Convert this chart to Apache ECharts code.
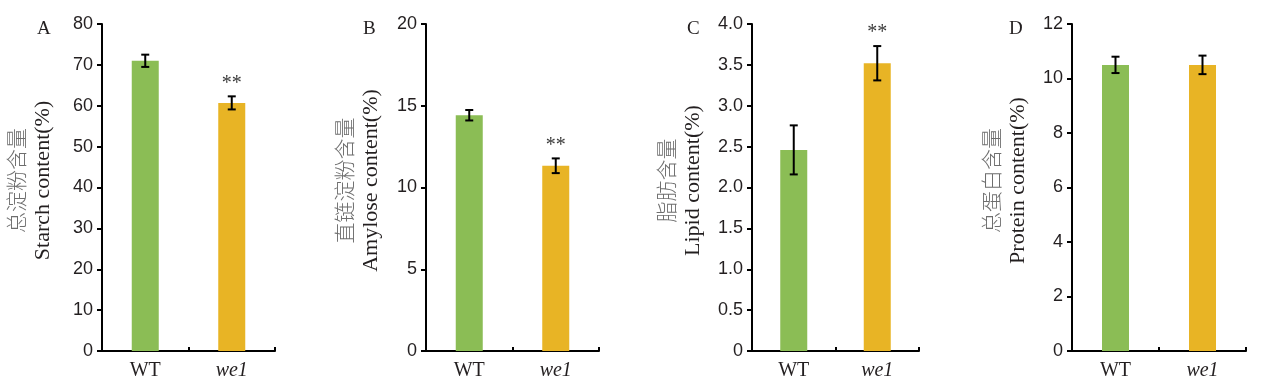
<!DOCTYPE html>
<html>
<head>
<meta charset="utf-8">
<script src="https://cdn.jsdelivr.net/npm/echarts@6/dist/echarts.min.js"></script>
<style>
html,body{margin:0;padding:0;background:#fff;}
#c{width:1264px;height:389px;}
</style>
</head>
<body>
<div id="c"></div>
<script>
// ---- data ----
const categories = ['WT', 'we1'];

const starchMean = [71.0, 60.7];
const starchErr = [1.5, 1.6];
const starchSig = ['', '**'];

const amyloseMean = [14.42, 11.33];
const amyloseErr = [0.32, 0.45];
const amyloseSig = ['', '**'];

const lipidMean = [2.46, 3.52];
const lipidErr = [0.30, 0.21];
const lipidSig = ['', '**'];

const proteinMean = [10.50, 10.50];
const proteinErr = [0.30, 0.34];
const proteinSig = ['', ''];

const starchTicks = ['0', '10', '20', '30', '40', '50', '60', '70', '80'];
const amyloseTicks = ['0', '5', '10', '15', '20'];
const lipidTicks = ['0', '0.5', '1.0', '1.5', '2.0', '2.5', '3.0', '3.5', '4.0'];
const proteinTicks = ['0', '2', '4', '6', '8', '10', '12'];

const panelLetters = ['A', 'B', 'C', 'D'];
const nameCN = ['总淀粉含量', '直链淀粉含量', '脂肪含量', '总蛋白含量'];
const nameEN = ['Starch content(%)', 'Amylose content(%)', 'Lipid content(%)', 'Protein content(%)'];

// ---- layout / style ----
const barColors = ['#8BBD55', '#E8B425'];
const ink = '#231f20';
const sans = '"Liberation Sans", Arial, sans-serif';
const serif = '"Liberation Serif", "Times New Roman", serif';

const panels = [
  {mean: starchMean, err: starchErr, sig: starchSig, ticks: starchTicks, max: 80, interval: 10, left: 102, width: 173, gap: 45, letterX: 32},
  {mean: amyloseMean, err: amyloseErr, sig: amyloseSig, ticks: amyloseTicks, max: 20, interval: 5, left: 426, width: 173, gap: 41, letterX: 358},
  {mean: lipidMean, err: lipidErr, sig: lipidSig, ticks: lipidTicks, max: 4, interval: 0.5, left: 752, width: 167, gap: 45, letterX: 682},
  {mean: proteinMean, err: proteinErr, sig: proteinSig, ticks: proteinTicks, max: 12, interval: 2, left: 1072, width: 174, gap: 40, letterX: 1004}
];

const grid = [], xAxis = [], yAxis = [], series = [], title = [];

panels.forEach((p, i) => {
  grid.push({left: p.left, width: p.width, top: 24, bottom: 38, containLabel: false});
  title.push({text: panelLetters[i], left: p.letterX, top: 15,
    textStyle: {fontFamily: serif, fontSize: 19, fontWeight: 'normal', color: ink}});
  xAxis.push({
    type: 'category', gridIndex: i, data: categories,
    axisLine: {lineStyle: {color: '#000', width: 2}},
    axisTick: {show: true, inside: true, length: 4, lineStyle: {color: '#000', width: 2}},
    axisLabel: {
      margin: 10, color: ink, fontFamily: serif, fontSize: 20,
      formatter: v => v === 'we1' ? '{i|we1}' : v,
      rich: {i: {fontStyle: 'italic', fontFamily: serif, fontSize: 20, color: ink}}
    },
    splitLine: {show: false}
  });
  yAxis.push({
    type: 'value', gridIndex: i, min: 0, max: p.max, interval: p.interval,
    axisLine: {show: true, lineStyle: {color: '#000', width: 2}},
    axisTick: {show: true, length: 5, lineStyle: {color: '#000', width: 2}},
    axisLabel: {margin: 9, color: ink, fontFamily: sans, fontSize: 18,
      formatter: v => p.ticks[Math.round(v / p.interval)]},
    splitLine: {show: false},
    name: '{cn|' + nameCN[i] + '}\n{en|' + nameEN[i] + '}',
    nameLocation: 'middle', nameRotate: 90, nameGap: p.gap,
    nameTextStyle: {
      padding: [0, 0, 0, 14],
      rich: {
        cn: {fontFamily: '"Noto Sans CJK SC"', fontWeight: 300, fontSize: 21, color: '#6e6e6e', lineHeight: 27},
        en: {fontFamily: serif, fontSize: 22, color: ink, lineHeight: 27}
      }
    }
  });
  series.push({
    type: 'bar', xAxisIndex: i, yAxisIndex: i, barWidth: 27,
    data: p.mean.map((v, k) => ({value: v, itemStyle: {color: barColors[k]}})),
    silent: true
  });
  series.push({
    type: 'custom', xAxisIndex: i, yAxisIndex: i, z: 5, silent: true,
    data: p.mean.map((v, k) => [k, v, p.err[k]]),
    renderItem: (params, api) => {
      const k = api.value(0), m = api.value(1), e = api.value(2);
      const top = api.coord([k, m + e]);
      const bot = api.coord([k, m - e]);
      const hw = 4;
      const children = [
        {type: 'line', shape: {x1: top[0], y1: top[1], x2: bot[0], y2: bot[1]}, style: {stroke: '#000', lineWidth: 2}},
        {type: 'line', shape: {x1: top[0] - hw, y1: top[1], x2: top[0] + hw, y2: top[1]}, style: {stroke: '#000', lineWidth: 2}},
        {type: 'line', shape: {x1: bot[0] - hw, y1: bot[1], x2: bot[0] + hw, y2: bot[1]}, style: {stroke: '#000', lineWidth: 2}}
      ];
      const s = p.sig[k];
      if (s) {
        children.push({type: 'text', style: {text: s, x: top[0], y: top[1] - 3, textAlign: 'center', textVerticalAlign: 'bottom',
          fontFamily: serif, fontSize: 20, fill: '#3a3a3a'}});
      }
      return {type: 'group', children: children};
    }
  });
});

const chart = echarts.init(document.getElementById('c'), null, {renderer: 'canvas'});
chart.setOption({animation: false, backgroundColor: '#fff', title, grid, xAxis, yAxis, series});
</script>
</body>
</html>
